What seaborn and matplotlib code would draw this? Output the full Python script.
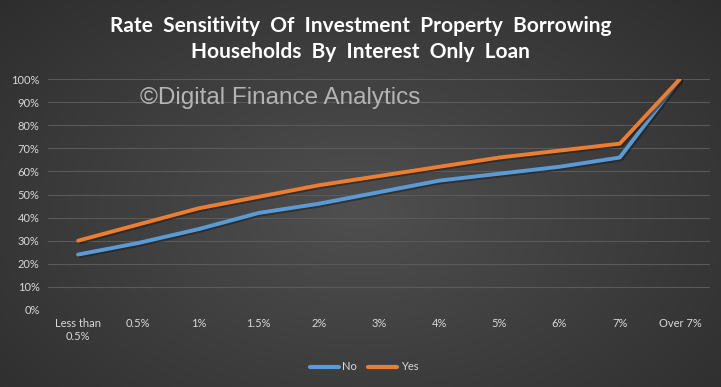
import numpy as np
import pandas as pd
import matplotlib
matplotlib.use("Agg")
import matplotlib.pyplot as plt
import matplotlib.patheffects as pe
from matplotlib.lines import Line2D
import seaborn as sns

categories = ["Less than\n0.5%", "0.5%", "1%", "1.5%", "2%", "3%", "4%", "5%", "6%", "7%", "Over 7%"]
no_values = [24, 29, 35, 42, 46, 51, 56, 59, 62, 66, 100]
yes_values = [30, 37, 44, 49, 54, 58, 62, 66, 69, 72, 100]
series = ["No", "Yes"]
colors = {"No": "#5B9BD5", "Yes": "#ED7D31"}

df = pd.DataFrame({
    "pos": list(range(len(categories))) * 2,
    "value": no_values + yes_values,
    "series": ["No"] * len(no_values) + ["Yes"] * len(yes_values),
})

sns.set_theme(style="dark")
plt.rcParams['font.family'] = ['Lato', 'DejaVu Sans']
txt = "#d9d9d9"

fig = plt.figure(figsize=(7.21, 3.87), dpi=100)

# radial dark background
bg = fig.add_axes([0, 0, 1, 1], zorder=-10)
yy, xx = np.mgrid[0:387, 0:721]
r = np.sqrt(((xx - 360) / 520.0) ** 2 + ((yy - 210) / 330.0) ** 2)
shade = np.clip(0.31 - 0.14 * r, 0.17, 0.31)
bg.imshow(np.dstack([shade] * 3), aspect="auto", extent=[0, 1, 0, 1])
bg.axis("off")

ax = fig.add_axes([48 / 721, 77 / 387, 662 / 721, 231 / 387])
ax.set_facecolor("none")

sns.lineplot(data=df, x="pos", y="value", hue="series", palette=colors,
             linewidth=2.8, ax=ax, legend=False, zorder=3,
             path_effects=[pe.SimpleLineShadow(offset=(1.2, -1.2), alpha=0.5), pe.Normal()])

ax.set_xlim(-0.5, len(categories) - 0.5)
ax.set_ylim(0, 100)
ax.set_yticks(range(0, 101, 10))
ax.set_yticklabels([f"{v}%" for v in range(0, 101, 10)], color=txt, fontsize=8)
ax.set_xticks(range(len(categories)))
ax.set_xticklabels(categories, color=txt, fontsize=8, va="top")
ax.tick_params(axis="both", length=0, pad=6)
ax.grid(axis="y", color="#5a5a5a", linewidth=0.8)
ax.grid(axis="x", visible=False)
ax.set_xlabel("")
ax.set_ylabel("")
for s in ax.spines.values():
    s.set_visible(False)

fig.text(0.5, 1 - 39 / 387, "Rate  Sensitivity  Of  Investment  Property  Borrowing\nHouseholds  By  Interest  Only  Loan",
         ha="center", va="center", color="white", fontsize=15, fontweight="bold", linespacing=1.35)

fig.text(140 / 721, 1 - 98 / 387, "\u00a9Digital Finance Analytics", ha="left", va="center",
         color="#b4b4b4", fontsize=17.5, family=["Liberation Sans", "DejaVu Sans"])

handles = [Line2D([0], [0], color=colors[s], linewidth=3) for s in series]
leg = fig.legend(handles, series, loc="center", bbox_to_anchor=(0.505, 1 - 367 / 387), ncol=2,
                 frameon=False, fontsize=8, handlelength=2.6, handletextpad=0.3, columnspacing=1.0)
for t in leg.get_texts():
    t.set_color(txt)

fig.savefig("out.png", dpi=100)
